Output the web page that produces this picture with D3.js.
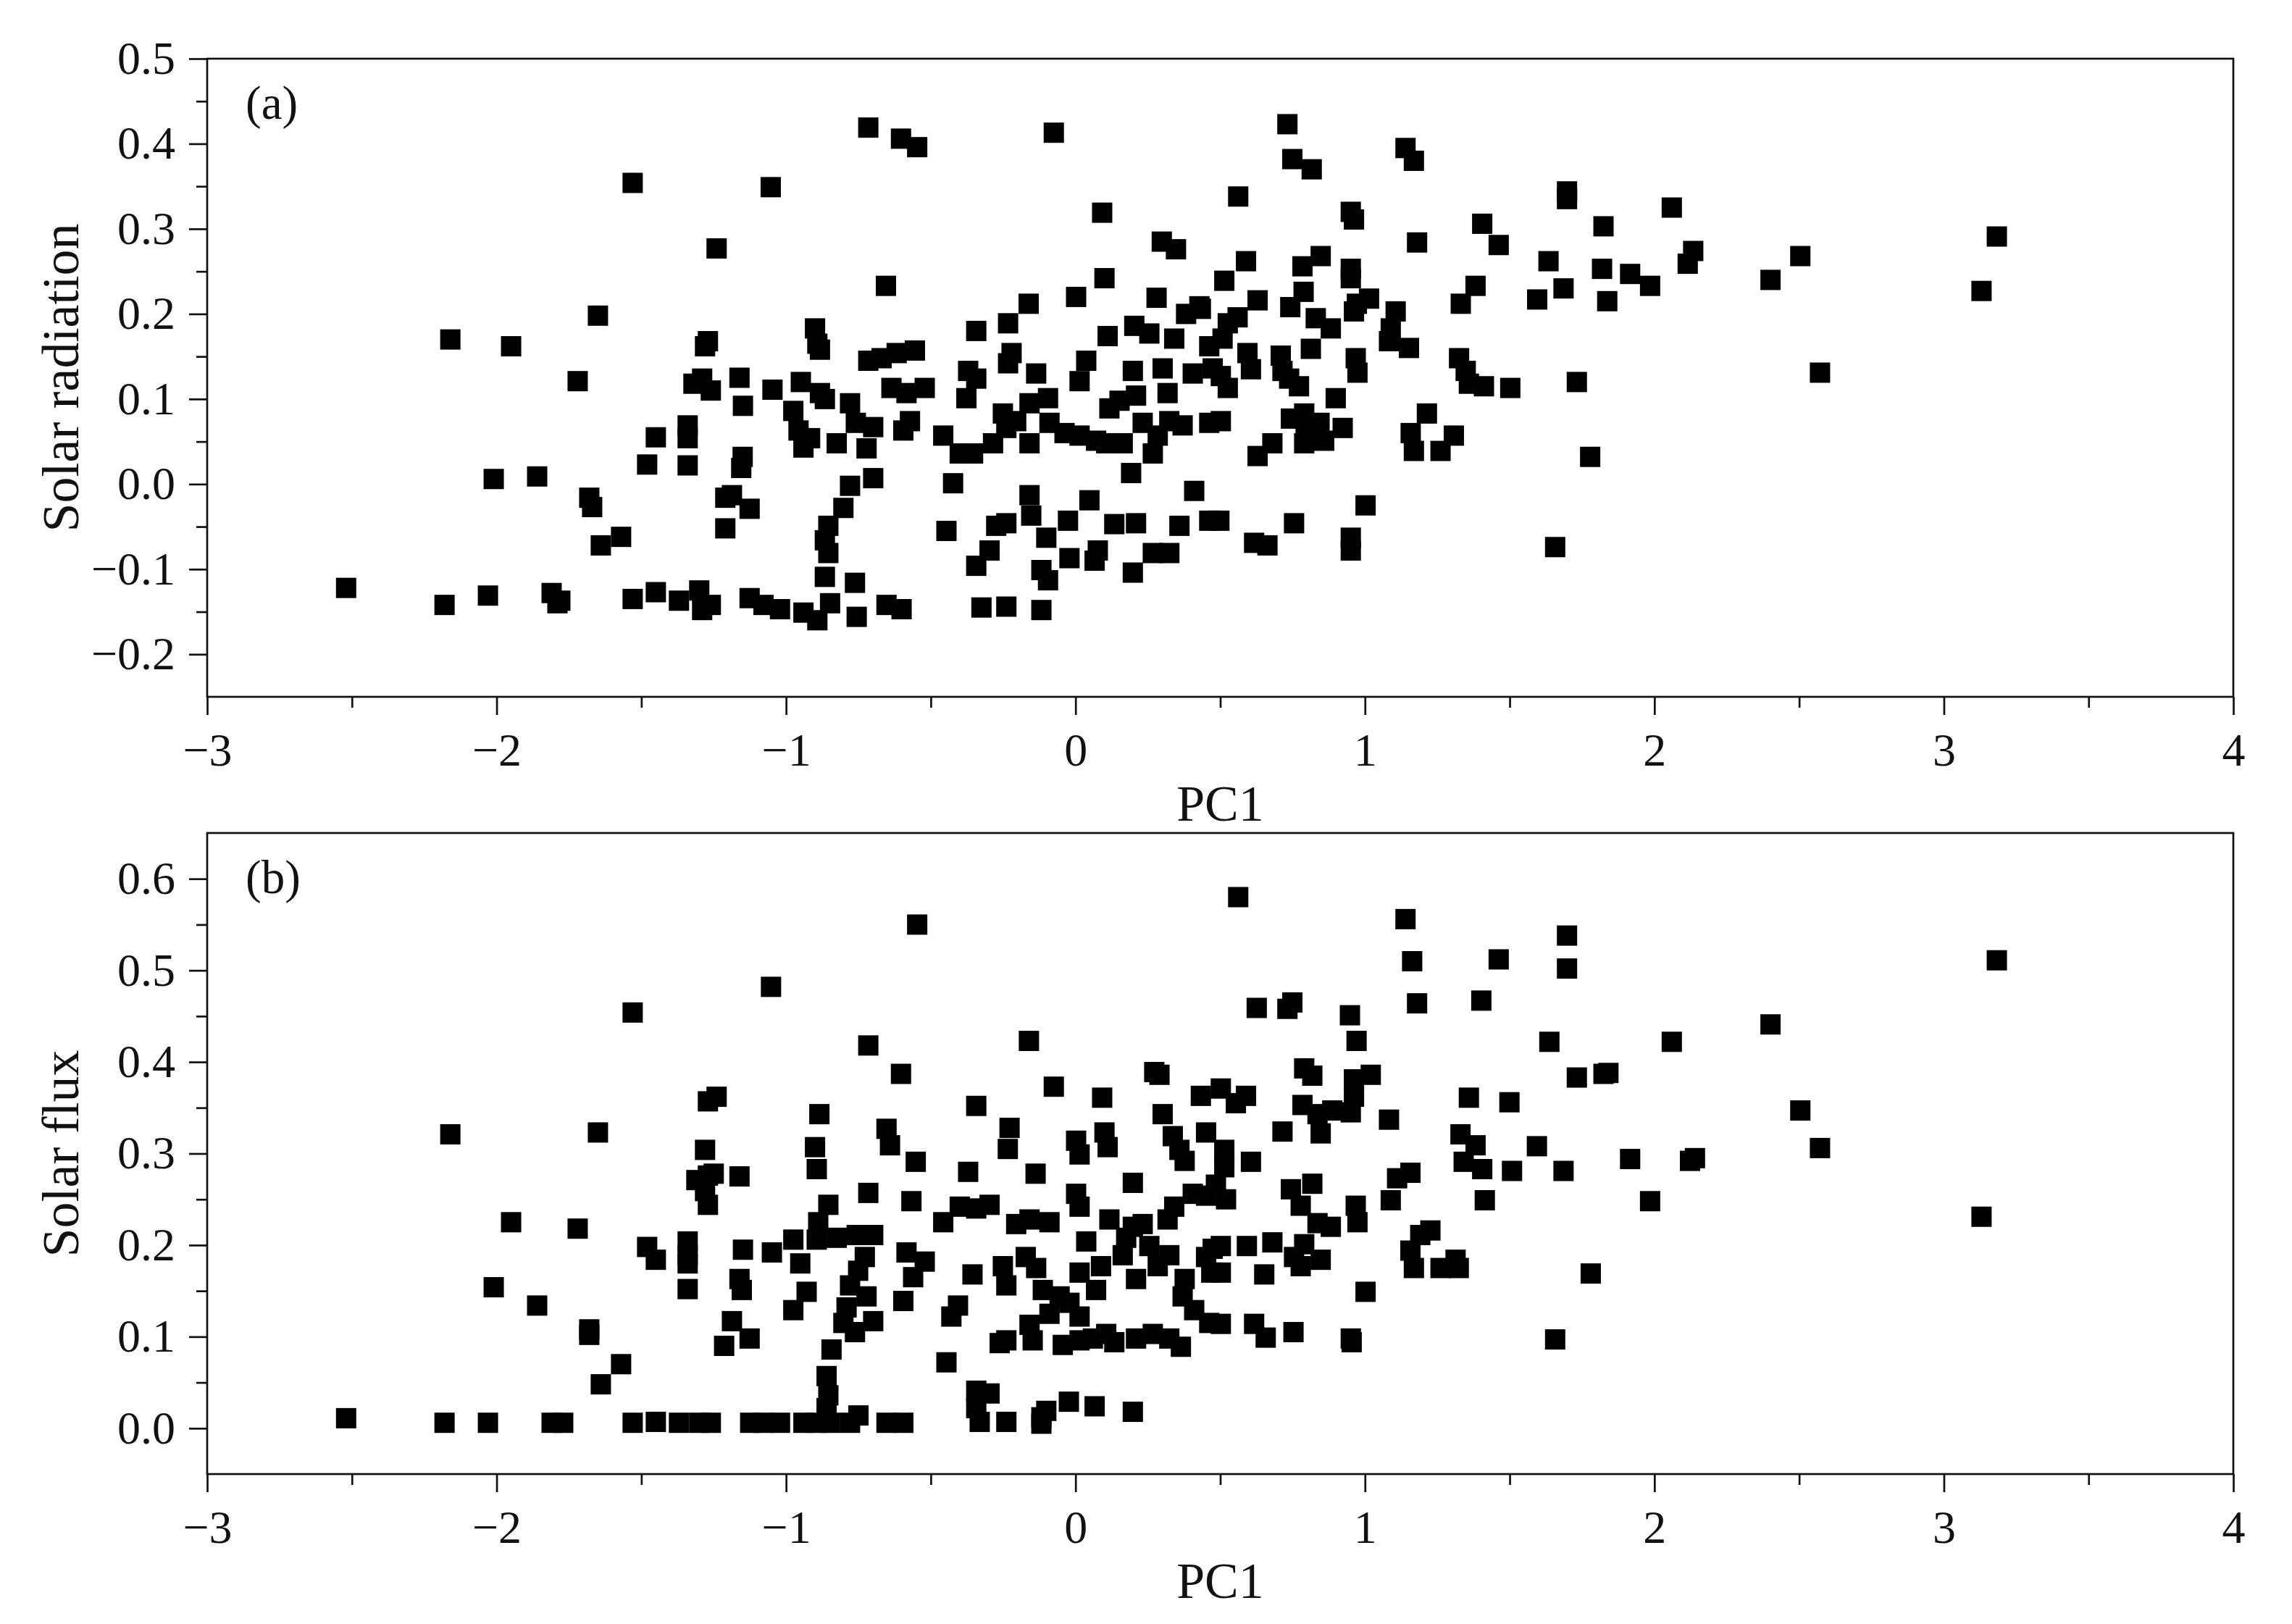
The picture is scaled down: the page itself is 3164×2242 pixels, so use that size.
<!DOCTYPE html>
<html>
<head>
<meta charset="utf-8">
<script src="https://cdn.jsdelivr.net/npm/d3@7"></script>
<style>
  body { margin: 0; background: #fff; }
  svg { display: block; }
</style>
</head>
<body>
<div id="chart"></div>
<script>
// PC1 vs solar radiation, panel (a)
const radiationPoints = [
  [-2.52,-0.122],[-2.18,-0.142],[-2.16,0.170],[-2.03,-0.131],[-2.01,0.006],[-1.95,0.162],[-1.86,0.009],[-1.81,-0.128],[-1.78,-0.137],[-1.79,-0.140],
  [-1.72,0.121],[-1.68,-0.016],[-1.67,-0.027],[-1.65,0.198],[-1.64,-0.072],[-1.57,-0.062],[-1.53,0.354],[-1.53,-0.135],[-1.48,0.023],[-1.45,0.055],
  [-1.45,-0.127],[-1.37,-0.137],[-1.34,0.022],[-1.34,0.054],[-1.34,0.069],[-1.32,0.118],[-1.30,-0.125],[-1.29,-0.148],[-1.26,-0.142],[-1.28,0.162],
  [-1.27,0.168],[-1.29,0.124],[-1.26,0.110],[-1.24,0.277],[-1.21,-0.016],[-1.21,-0.052],
  [-1.053,0.349],[-0.716,0.419],[-0.603,0.406],[-0.547,0.396],[-0.655,0.233],[-0.075,0.413],[0.092,0.319],[0.298,0.285],[0.347,0.276],[0.100,0.242],
  [0.002,0.220],[-0.162,0.212],[0.280,0.219],[0.382,0.200],[0.428,0.209],
  [-1.161,0.125],[-1.149,0.092],[-1.150,0.032],[-1.155,0.019],[-1.187,-0.013],[-1.126,-0.029],[-1.126,-0.134],[-1.078,-0.142],[-1.021,-0.147],[-0.940,-0.151],
  [-0.892,-0.160],[-0.848,-0.140],[-0.866,-0.109],[-0.762,-0.116],[-0.756,-0.156],[-0.653,-0.142],[-0.601,-0.147],[-1.047,0.111],[-0.949,0.120],[-0.975,0.086],
  [-0.957,0.063],[-0.940,0.043],[-0.900,0.183],[-0.892,0.165],[-0.883,0.158],[-0.883,0.107],[-0.866,0.100],[-0.917,0.054],[-0.825,0.048],[-0.779,0.095],
  [-0.759,0.072],[-0.722,0.042],[-0.699,0.067],[-0.716,0.145],[-0.670,0.148],[-0.618,0.154],[-0.555,0.157],[-0.636,0.113],[-0.584,0.107],[-0.521,0.113],
  [-0.595,0.063],[-0.572,0.074],[-0.779,-0.002],[-0.699,0.007],[-0.802,-0.028],[-0.854,-0.049],[-0.866,-0.066],[-0.854,-0.081],[-0.457,0.057],[-0.423,0.001],
  [-0.446,-0.055],[-0.377,0.101],[-0.400,0.036],[-0.343,0.180],[-0.371,0.133],[-0.343,0.124],[-0.354,0.036],[-0.285,0.048],[-0.343,-0.096],[-0.297,-0.078],
  [-0.274,-0.049],[-0.239,-0.046],[-0.325,-0.145],[-0.239,-0.144],[-0.233,0.189],[-0.221,0.154],[-0.233,0.142],[-0.251,0.083],[-0.239,0.066],[-0.205,0.074],
  [-0.159,0.095],[-0.136,0.130],[-0.159,0.048],[-0.159,-0.013],[-0.153,-0.037],[-0.101,-0.063],[-0.118,-0.101],[-0.095,-0.113],[-0.118,-0.148],[-0.095,0.101],
  [-0.090,0.072],[-0.038,0.060],[-0.026,-0.043],[-0.021,-0.087],[0.014,0.121],[0.037,0.145],[0.014,0.057],[0.071,0.051],[0.048,-0.019],[0.066,-0.090],
  [0.077,-0.078],[0.111,0.174],[0.134,-0.047],[0.117,0.089],[0.152,0.098],[0.106,0.048],[0.163,0.048],[0.192,0.013],[0.198,-0.104],[0.209,-0.046],
  [0.198,0.133],[0.203,0.186],[0.255,0.177],[0.209,0.104],[0.232,0.072],[0.267,-0.081],[0.324,-0.081],[0.284,0.057],[0.267,0.036],[0.301,0.136],
  [0.318,0.107],[0.341,0.171],[0.359,-0.049],[0.410,-0.008],[0.462,-0.043],[0.497,-0.043],[0.324,0.074],[0.370,0.069],[0.405,0.130],[0.433,0.206],
  [0.462,0.162],[0.474,0.136],[0.462,0.072],
  [0.732,0.423],[0.749,0.382],[0.816,0.370],[0.562,0.338],[1.140,0.395],[1.169,0.380],[0.951,0.320],[0.962,0.311],[1.180,0.284],[1.405,0.306],
  [1.462,0.281],[1.698,0.344],[1.698,0.335],[1.824,0.303],[2.060,0.325],[2.134,0.274],[2.115,0.259],[0.589,0.262],[0.784,0.256],[0.847,0.268],
  [0.951,0.253],[0.951,0.242],[0.972,0.212],[1.014,0.218],[0.962,0.203],[0.514,0.239],[0.629,0.216],[0.788,0.226],[0.742,0.208],[0.830,0.195],
  [0.882,0.183],[0.526,0.189],[0.560,0.196],[0.508,0.171],[0.813,0.159],[1.106,0.203],[1.089,0.183],[1.083,0.168],[1.152,0.160],[1.382,0.233],
  [1.331,0.212],[1.634,0.262],[1.686,0.230],[1.595,0.217],[1.819,0.253],[1.916,0.247],[1.985,0.233],[1.837,0.215],[0.594,0.154],[0.606,0.135],
  [0.709,0.151],[0.715,0.133],[0.738,0.124],[0.772,0.115],[0.968,0.148],[0.974,0.131],[0.502,0.127],[0.526,0.113],[1.325,0.148],[1.348,0.133],
  [1.359,0.118],[1.411,0.115],[1.502,0.113],[1.732,0.120],[0.899,0.101],[0.790,0.083],[0.744,0.077],[0.795,0.069],[0.843,0.072],[0.923,0.066],
  [0.790,0.048],[0.859,0.051],[0.680,0.048],[0.629,0.033],[0.502,0.074],[1.214,0.083],[1.158,0.060],[1.169,0.039],[1.261,0.039],[1.307,0.057],
  [1.778,0.032],[1.002,-0.025],[0.755,-0.046],[0.617,-0.069],[0.663,-0.072],[0.951,-0.063],[0.951,-0.078],[1.657,-0.074],
  [2.401,0.240],[2.504,0.268],[2.572,0.131],[3.130,0.227],[3.183,0.291]
];

// PC1 vs solar flux, panel (b)
const fluxPoints = [
  [-2.52,0.011],[-2.18,0.006],[-2.16,0.321],[-2.03,0.006],[-2.01,0.154],[-1.95,0.225],[-1.86,0.134],[-1.81,0.006],[-1.77,0.006],[-1.72,0.218],
  [-1.68,0.108],[-1.68,0.102],[-1.65,0.323],[-1.64,0.048],[-1.57,0.070],[-1.53,0.454],[-1.53,0.006],[-1.48,0.198],[-1.45,0.184],[-1.45,0.007],
  [-1.37,0.006],[-1.34,0.204],[-1.34,0.189],[-1.34,0.180],[-1.34,0.152],[-1.31,0.271],[-1.28,0.304],[-1.27,0.357],[-1.24,0.362],[-1.27,0.276],
  [-1.25,0.278],[-1.28,0.259],[-1.27,0.244],[-1.30,0.006],[-1.26,0.006],
  [-1.052,0.482],[-0.547,0.550],[-0.716,0.418],[-0.603,0.387],[-0.161,0.423],[-0.075,0.373],[0.272,0.389],[0.290,0.386],[0.092,0.361],[-0.343,0.352],
  [-0.885,0.343],[-0.653,0.327],[-0.641,0.309],[-0.552,0.291],[-0.228,0.328],[-0.234,0.305],[0.002,0.314],[0.014,0.299],[0.100,0.323],[0.111,0.307],
  [0.301,0.343],[0.336,0.319],[0.359,0.304],[0.377,0.292],[0.433,0.363],[0.451,0.323],[-0.900,0.307],[-0.894,0.283],[-1.161,0.275],[-0.716,0.257],
  [-0.567,0.248],[-0.371,0.280],[-0.138,0.278],[0.198,0.268],[-0.854,0.244],[-0.889,0.225],[0.002,0.256],[0.014,0.242],[-0.457,0.225],[-0.400,0.242],
  [-0.343,0.240],[-0.297,0.244],[-0.975,0.206],[-0.894,0.206],[-0.825,0.208],[-0.756,0.211],[-0.699,0.211],[-1.149,0.195],[-1.049,0.192],[-0.951,0.180],
  [-0.728,0.187],[-0.751,0.172],[-0.584,0.192],[-0.521,0.182],[-0.561,0.165],[-1.161,0.163],[-1.153,0.151],[-0.929,0.149],[-0.779,0.156],[-0.722,0.144],
  [-0.975,0.129],[-0.791,0.132],[-0.699,0.117],[-0.802,0.115],[-0.762,0.105],[-0.595,0.139],[-1.187,0.117],[-1.126,0.098],[-1.214,0.090],[-0.843,0.086],
  [-0.860,0.057],[-0.854,0.036],[-0.860,0.022],[-1.124,0.006],[-1.078,0.006],[-1.021,0.006],[-0.940,0.006],[-0.894,0.006],[-0.848,0.006],[-0.779,0.006],
  [-0.750,0.014],[-0.653,0.006],[-0.595,0.006],[-0.356,0.168],[-0.406,0.134],[-0.429,0.122],[-0.446,0.072],[-0.251,0.177],[-0.239,0.156],[-0.205,0.223],
  [-0.159,0.228],[-0.090,0.225],[-0.172,0.187],[-0.136,0.175],[-0.113,0.151],[-0.055,0.144],[-0.021,0.137],[0.014,0.122],[-0.159,0.113],[-0.148,0.096],
  [-0.090,0.125],[-0.262,0.093],[-0.239,0.096],[-0.044,0.091],[0.014,0.096],[0.060,0.098],[0.106,0.103],[0.134,0.094],[0.209,0.098],[0.267,0.103],
  [0.324,0.098],[0.364,0.089],[0.014,0.170],[0.037,0.204],[0.088,0.177],[0.071,0.151],[0.117,0.228],[0.175,0.208],[0.163,0.189],[0.198,0.220],
  [0.232,0.223],[0.209,0.163],[0.255,0.199],[0.284,0.177],[0.324,0.189],[0.318,0.228],[0.341,0.242],[0.405,0.256],[0.451,0.254],[0.485,0.266],
  [0.474,0.196],[0.451,0.187],[0.469,0.170],[0.377,0.163],[0.370,0.144],[0.410,0.129],[0.462,0.115],[-0.343,0.041],[-0.297,0.038],[-0.343,0.022],
  [-0.331,0.007],[-0.239,0.007],[-0.118,0.012],[-0.101,0.019],[-0.023,0.029],[0.066,0.024],[0.198,0.018],[-0.118,0.005],
  [0.562,0.580],[1.140,0.556],[1.698,0.538],[1.163,0.510],[1.462,0.512],[1.698,0.502],[1.180,0.464],[1.402,0.467],[0.626,0.459],[0.732,0.458],
  [0.749,0.465],[0.948,0.451],[0.971,0.423],[1.637,0.422],[2.060,0.422],[0.790,0.393],[0.818,0.385],[1.020,0.386],[0.962,0.381],[0.962,0.362],
  [0.951,0.345],[1.732,0.383],[1.824,0.387],[1.841,0.388],[0.502,0.371],[0.589,0.363],[0.554,0.355],[0.784,0.353],[0.836,0.343],[0.887,0.347],
  [1.083,0.337],[1.359,0.361],[1.499,0.356],[0.715,0.324],[0.847,0.322],[1.330,0.321],[1.382,0.309],[1.594,0.308],[0.514,0.304],[0.514,0.285],
  [0.606,0.291],[1.341,0.291],[1.405,0.283],[1.508,0.281],[1.686,0.281],[1.916,0.294],[2.123,0.292],[2.140,0.295],[0.520,0.250],[0.818,0.267],
  [0.744,0.261],[0.778,0.243],[1.157,0.279],[1.111,0.273],[1.089,0.249],[1.414,0.249],[1.985,0.248],[0.968,0.243],[0.974,0.225],[0.836,0.224],
  [0.882,0.220],[1.226,0.216],[1.191,0.211],[0.502,0.199],[0.592,0.199],[0.680,0.203],[0.790,0.201],[0.755,0.187],[0.847,0.184],[0.778,0.177],
  [0.502,0.170],[0.652,0.168],[1.157,0.194],[1.169,0.175],[1.261,0.175],[1.313,0.184],[1.324,0.175],[1.780,0.169],[1.002,0.149],[0.502,0.114],
  [0.617,0.114],[0.657,0.099],[0.753,0.105],[0.951,0.098],[0.954,0.094],[1.657,0.097],
  [2.401,0.441],[2.504,0.347],[2.572,0.306],[3.183,0.511],[3.130,0.231]
];

const xTicks = [-3, -2, -1, 0, 1, 2, 3, 4];
const xMinorTicks = [-2.5, -1.5, -0.5, 0.5, 1.5, 2.5, 3.5];
const radiationTicks = [-0.2, -0.1, 0.0, 0.1, 0.2, 0.3, 0.4, 0.5];
const radiationMinorTicks = [-0.15, -0.05, 0.05, 0.15, 0.25, 0.35, 0.45];
const fluxTicks = [0.0, 0.1, 0.2, 0.3, 0.4, 0.5, 0.6];
const fluxMinorTicks = [0.05, 0.15, 0.25, 0.35, 0.45, 0.55];

const fontFamily = "'Liberation Serif', 'Times New Roman', serif";
const width = 3164, height = 2242;

const svg = d3.select("#chart")
  .append("svg")
  .attr("width", width)
  .attr("height", height);

const xScale = d3.scaleLinear().domain([-3, 4]).range([286, 3083]);

const panels = [
  { top: 81, bottom: 962, domain: [-0.25, 0.5], ticks: radiationTicks, minor: radiationMinorTicks,
    tag: "(a)", title: "Solar radiation", data: radiationPoints },
  { top: 1150, bottom: 2035, domain: [-0.05, 0.65], ticks: fluxTicks, minor: fluxMinorTicks,
    tag: "(b)", title: "Solar flux", data: fluxPoints }
];

panels.forEach(drawPanel);

function drawPanel(p) {
  const yScale = d3.scaleLinear().domain(p.domain).range([p.bottom, p.top]);
  const g = svg.append("g");
  const left = xScale.range()[0], right = xScale.range()[1];

  // minor ticks first (no labels)
  g.append("g")
    .attr("transform", `translate(${left},0)`)
    .call(d3.axisLeft(yScale).tickValues(p.minor).tickSize(15).tickFormat(""))
    .call(s => s.select(".domain").remove());
  g.append("g")
    .attr("transform", `translate(0,${p.bottom})`)
    .call(d3.axisBottom(xScale).tickValues(xMinorTicks).tickSize(15).tickFormat(""))
    .call(s => s.select(".domain").remove());

  // major ticks with labels
  g.append("g")
    .attr("class", "axis y")
    .attr("transform", `translate(${left},0)`)
    .call(d3.axisLeft(yScale).tickValues(p.ticks).tickSize(25).tickPadding(19).tickFormat(d3.format(".1f")))
    .call(s => s.select(".domain").remove());
  g.append("g")
    .attr("class", "axis x")
    .attr("transform", `translate(0,${p.bottom})`)
    .call(d3.axisBottom(xScale).tickValues(xTicks).tickSize(25).tickPadding(25).tickFormat(d3.format("d")))
    .call(s => s.select(".domain").remove());

  g.selectAll(".tick line").attr("stroke", "#111").attr("stroke-width", 2.7);
  g.selectAll(".tick text")
    .attr("font-family", fontFamily)
    .attr("font-size", 64)
    .attr("fill", "#111");

  // frame
  g.append("rect")
    .attr("x", left)
    .attr("y", p.top)
    .attr("width", right - left)
    .attr("height", p.bottom - p.top)
    .attr("fill", "none")
    .attr("stroke", "#111")
    .attr("stroke-width", 2.7);

  // points
  const size = 28;
  g.append("g")
    .selectAll("rect")
    .data(p.data)
    .enter()
    .append("rect")
    .attr("x", d => xScale(d[0]) - size / 2)
    .attr("y", d => yScale(d[1]) - size / 2)
    .attr("width", size)
    .attr("height", size)
    .attr("fill", "#000");

  // labels
  g.append("text")
    .attr("x", left + 53)
    .attr("y", p.top + 83)
    .attr("font-family", fontFamily)
    .attr("font-size", 65)
    .attr("fill", "#111")
    .text(p.tag);

  g.append("text")
    .attr("x", (left + right) / 2)
    .attr("y", p.bottom + 171)
    .attr("text-anchor", "middle")
    .attr("font-family", fontFamily)
    .attr("font-size", 70)
    .attr("fill", "#111")
    .text("PC1");

  g.append("text")
    .attr("transform", `translate(108,${(p.top + p.bottom) / 2}) rotate(-90)`)
    .attr("text-anchor", "middle")
    .attr("font-family", fontFamily)
    .attr("font-size", 72)
    .attr("fill", "#111")
    .text(p.title);
}
</script>
</body>
</html>
